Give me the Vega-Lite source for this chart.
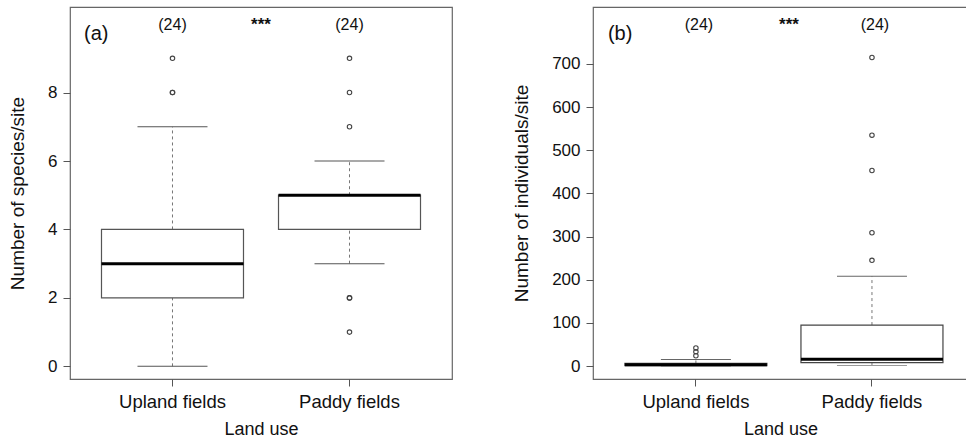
{
  "$schema": "https://vega.github.io/schema/vega-lite/v6.json",
  "background": "white",
  "padding": {"left": 7, "top": 6, "right": 0, "bottom": 0},
  "spacing": 59,
  "config": {
    "font": "Liberation Sans",
    "view": {"stroke": "#666", "strokeWidth": 1.2},
    "tick": {"opacity": 1},
    "point": {"opacity": 1},
    "axis": {
      "domain": false, "grid": false,
      "tickColor": "#555", "tickSize": 7, "tickWidth": 1,
      "labelFont": "Liberation Sans", "labelFontSize": 17, "labelColor": "#111",
      "titleFont": "Liberation Sans", "titleFontSize": 19, "titleFontWeight": "normal", "titleColor": "#111"
    },
    "axisX": {"labelFontSize": 18.5, "titleFontSize": 18, "labelPadding": 6, "titlePadding": 10}
  },
  "datasets": {
    "boxA": [
      {"group": "Upland fields", "lower": 0, "q1": 2, "median": 3, "q3": 4, "upper": 7},
      {"group": "Paddy fields", "lower": 3, "q1": 4, "median": 5, "q3": 5, "upper": 6}
    ],
    "outA": [
      {"group": "Upland fields", "value": 8},
      {"group": "Upland fields", "value": 8},
      {"group": "Upland fields", "value": 9},
      {"group": "Paddy fields", "value": 1},
      {"group": "Paddy fields", "value": 2},
      {"group": "Paddy fields", "value": 2},
      {"group": "Paddy fields", "value": 7},
      {"group": "Paddy fields", "value": 8},
      {"group": "Paddy fields", "value": 9}
    ],
    "boxB": [
      {"group": "Upland fields", "lower": 0, "q1": 1, "median": 3, "q3": 6, "upper": 15},
      {"group": "Paddy fields", "lower": 1, "q1": 8, "median": 16, "q3": 95, "upper": 208}
    ],
    "outB": [
      {"group": "Upland fields", "value": 24},
      {"group": "Upland fields", "value": 33},
      {"group": "Upland fields", "value": 42},
      {"group": "Paddy fields", "value": 245},
      {"group": "Paddy fields", "value": 309},
      {"group": "Paddy fields", "value": 453},
      {"group": "Paddy fields", "value": 535},
      {"group": "Paddy fields", "value": 715}
    ],
    "counts": [
      {"group": "Upland fields", "label": "(24)"},
      {"group": "Paddy fields", "label": "(24)"}
    ]
  },
  "hconcat": [
    {
      "width": 382,
      "height": 372,
      "encoding": {
        "x": {
          "field": "group", "type": "nominal", "sort": ["Upland fields", "Paddy fields"],
          "scale": {"domain": ["Upland fields", "Paddy fields"], "paddingInner": 0, "paddingOuter": 0.079},
          "axis": {"title": "Land use", "labelAngle": 0}
        }
      },
      "layer": [
        {
          "data": {"name": "boxA"},
          "mark": {"type": "rule", "stroke": "#777", "strokeDash": [3, 3], "strokeWidth": 1},
          "encoding": {
            "y": {"field": "q3", "type": "quantitative",
              "scale": {"domain": [-0.37, 10.5], "nice": false, "zero": false},
              "axis": {"title": "Number of species/site", "values": [0, 2, 4, 6, 8], "labelPadding": 6, "titlePadding": 20}},
            "y2": {"field": "upper"}
          }
        },
        {
          "data": {"name": "boxA"},
          "mark": {"type": "rule", "stroke": "#777", "strokeDash": [3, 3], "strokeWidth": 1},
          "encoding": {"y": {"field": "lower", "type": "quantitative"}, "y2": {"field": "q1"}}
        },
        {
          "data": {"name": "boxA"},
          "mark": {"type": "tick", "color": "#555", "size": 70, "thickness": 1},
          "encoding": {"y": {"field": "upper", "type": "quantitative"}}
        },
        {
          "data": {"name": "boxA"},
          "mark": {"type": "tick", "color": "#555", "size": 70, "thickness": 1},
          "encoding": {"y": {"field": "lower", "type": "quantitative"}}
        },
        {
          "data": {"name": "boxA"},
          "mark": {"type": "bar", "fill": "white", "stroke": "#555", "strokeWidth": 1.2, "size": 142},
          "encoding": {"y": {"field": "q1", "type": "quantitative"}, "y2": {"field": "q3"}}
        },
        {
          "data": {"name": "boxA"},
          "mark": {"type": "tick", "color": "#000", "size": 142, "thickness": 3},
          "encoding": {"y": {"field": "median", "type": "quantitative"}}
        },
        {
          "data": {"name": "outA"},
          "mark": {"type": "point", "shape": "circle", "filled": false, "stroke": "#444", "strokeWidth": 1.1, "size": 20},
          "encoding": {"y": {"field": "value", "type": "quantitative"}}
        },
        {
          "data": {"name": "counts"},
          "mark": {"type": "text", "fontSize": 16, "color": "#111", "baseline": "middle", "align": "center"},
          "encoding": {"y": {"datum": 9.96, "type": "quantitative"}, "text": {"field": "label"}}
        },
        {
          "data": {"values": [{"group": "Upland fields", "label": "***"}]},
          "mark": {"type": "text", "fontSize": 17, "fontWeight": "bold", "color": "#111", "baseline": "middle", "align": "center"},
          "encoding": {"x": {"field": "group", "type": "nominal", "bandPosition": 1}, "y": {"datum": 9.96, "type": "quantitative"}, "text": {"field": "label"}}
        },
        {
          "data": {"values": [{"group": "Upland fields", "label": "(a)"}]},
          "mark": {"type": "text", "fontSize": 20, "color": "#111", "baseline": "middle", "align": "left"},
          "encoding": {"x": {"field": "group", "type": "nominal", "bandPosition": 0}, "y": {"datum": 9.71, "type": "quantitative"}, "text": {"field": "label"}}
        }
      ]
    },
    {
      "width": 375,
      "height": 372,
      "encoding": {
        "x": {
          "field": "group", "type": "nominal", "sort": ["Upland fields", "Paddy fields"],
          "scale": {"domain": ["Upland fields", "Paddy fields"], "paddingInner": 0, "paddingOuter": 0.065, "align": 0.65},
          "axis": {"title": "Land use", "labelAngle": 0}
        }
      },
      "layer": [
        {
          "data": {"name": "boxB"},
          "mark": {"type": "rule", "stroke": "#777", "strokeDash": [3, 3], "strokeWidth": 1},
          "encoding": {
            "y": {"field": "q3", "type": "quantitative",
              "scale": {"domain": [-30, 832], "nice": false, "zero": false},
              "axis": {"title": "Number of individuals/site", "values": [0, 100, 200, 300, 400, 500, 600, 700], "labelPadding": 6, "titlePadding": 20}},
            "y2": {"field": "upper"}
          }
        },
        {
          "data": {"name": "boxB"},
          "mark": {"type": "rule", "stroke": "#777", "strokeDash": [3, 3], "strokeWidth": 1},
          "encoding": {"y": {"field": "lower", "type": "quantitative"}, "y2": {"field": "q1"}}
        },
        {
          "data": {"name": "boxB"},
          "mark": {"type": "tick", "color": "#666", "size": 70, "thickness": 1},
          "encoding": {"y": {"field": "upper", "type": "quantitative"}}
        },
        {
          "data": {"name": "boxB"},
          "mark": {"type": "tick", "color": "#999", "size": 70, "thickness": 1},
          "encoding": {"y": {"field": "lower", "type": "quantitative"}}
        },
        {
          "data": {"name": "boxB"},
          "mark": {"type": "bar", "fill": "white", "stroke": "#444", "strokeWidth": 1.2, "size": 142},
          "encoding": {"y": {"field": "q1", "type": "quantitative"}, "y2": {"field": "q3"}}
        },
        {
          "data": {"name": "boxB"},
          "mark": {"type": "tick", "color": "#000", "size": 142, "thickness": 3},
          "encoding": {"y": {"field": "median", "type": "quantitative"}}
        },
        {
          "data": {"name": "outB"},
          "mark": {"type": "point", "shape": "circle", "filled": false, "stroke": "#444", "strokeWidth": 1.1, "size": 20},
          "encoding": {"y": {"field": "value", "type": "quantitative"}}
        },
        {
          "data": {"name": "counts"},
          "mark": {"type": "text", "fontSize": 16, "color": "#111", "baseline": "middle", "align": "center", "dx": 3},
          "encoding": {"y": {"datum": 790, "type": "quantitative"}, "text": {"field": "label"}}
        },
        {
          "data": {"values": [{"group": "Upland fields", "label": "***"}]},
          "mark": {"type": "text", "fontSize": 17, "fontWeight": "bold", "color": "#111", "baseline": "middle", "align": "center", "dx": 5},
          "encoding": {"x": {"field": "group", "type": "nominal", "bandPosition": 1}, "y": {"datum": 790, "type": "quantitative"}, "text": {"field": "label"}}
        },
        {
          "data": {"values": [{"group": "Upland fields", "label": "(b)"}]},
          "mark": {"type": "text", "fontSize": 20, "color": "#111", "baseline": "middle", "align": "left"},
          "encoding": {"x": {"field": "group", "type": "nominal", "bandPosition": 0}, "y": {"datum": 769, "type": "quantitative"}, "text": {"field": "label"}}
        }
      ]
    }
  ]
}
